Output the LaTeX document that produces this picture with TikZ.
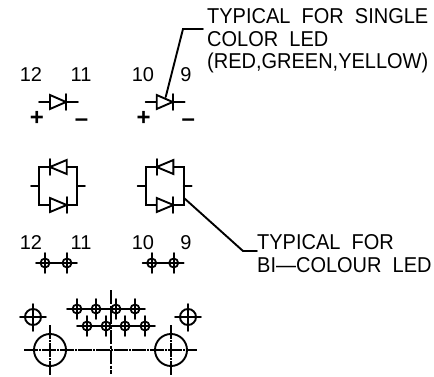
\documentclass[tikz,border=0pt]{standalone}
\usepackage{fontspec}
\setmainfont{Liberation Sans}
\usetikzlibrary{calc,positioning}
\tikzset{
    wire/.style={line width=1.9pt, line cap=round},
    padtick/.style={line width=1.8pt, line cap=round},
    pinnum/.style={font=\fontsize{20}{20}\selectfont, inner sep=0pt},
    polarity/.style={font=\bfseries\fontsize{24}{24}\selectfont, inner sep=0pt},
    notetext/.style={font=\fontsize{21.5}{22}\selectfont, inner sep=0pt, anchor=base west, xscale=0.93},
    centreline/.style={line width=2.4pt, dash pattern=on 14pt off 1.5pt on 3pt off 1.5pt},
    padline/.style={line width=1.8pt, dash pattern=on 14pt off 1pt on 2pt off 1pt}
}
\begin{document}
\begin{tikzpicture}[x=1pt,y=-1pt]
        \useasboundingbox (0,0) rectangle (434,377);
        % Single colour symbols
        \foreach \dx in {0,106.7} {
            \begin{scope}[xshift=\dx pt]
                \draw[wire] (39,102) -- (78,102);
                \filldraw[wire, fill=white] (50,95) -- (50,109) -- (66,102) -- cycle;
                \draw[wire] (66,94) -- (66,110);
                \node[polarity] at (37,118) {+};
                \node[polarity] at (81.5,123) {–};
                % Bi-colour symbols
                \draw[wire] (31,186) -- (39,186) (77,186) -- (85,186);
                \draw[wire] (39,167) rectangle (77,205);
                \filldraw[wire, fill=white] (66.7,160) -- (66.7,174) -- (50,167) -- cycle;
                \draw[wire] (50,159) -- (50,175);
                \filldraw[wire, fill=white] (50,198) -- (50,212) -- (66.7,205) -- cycle;
                \draw[wire] (66.7,197) -- (66.7,213);
                % Footprint pads
                \draw[wire] (36,263) -- (77,263);
                \foreach \px in {45,67} {
                    \draw[padtick] (\px,263) circle (4.5);
                    \draw[padtick] (\px,253) -- (\px,273);
                }
            \end{scope}
        }
        % Pin numbers
        \node[pinnum] (num12) at (31,75) {12};
        \node[pinnum] (num11) at (81,75) {11};
        \node[pinnum] (num10) at (143,75) {10};
        \node[pinnum] (num9) at (186,75) {9};
        \node[pinnum] (numb12) at (31,243) {12};
        \node[pinnum] (numb11) at (81,243) {11};
        \node[pinnum] (numb10) at (143,243) {10};
        \node[pinnum] (numb9) at (186,243) {9};
        % Notes
        \node[notetext] (single1) at (207,24) {TYPICAL\ \ FOR\ \ SINGLE};
        \node[notetext] (single2) at (207,47) {COLOR\ \ LED};
        \node[notetext] (single3) at (207,69) {(RED,GREEN,YELLOW)};
        \node[notetext] (bi1) at (257,249) {TYPICAL\ \ FOR};
        \node[notetext] (bi2) at (257,272) {BI---COLOUR\ \ LED};
        \coordinate (singletip) at (165.7,97);
        \coordinate (singlebend) at (183,29);
        \coordinate (singleend) at (203,29);
        \coordinate (bitip) at (184,198);
        \coordinate (bibend) at (243,251);
        \coordinate (biend) at (257,251);
        \draw[wire] (singletip) -- (singlebend) -- (singleend);
        \draw[wire] (bitip) -- (bibend) -- (biend);
        % Package outline
        \draw[centreline] (110.7,290) -- (110.7,374);
        \draw[padline] (24,350) -- (197,350);
        \foreach \px in {50,171} {
            \draw[wire] (\px,350) circle (16);
            \draw[padline] (\px,325) -- (\px,376);
        }
        \foreach \px in {33,188} {
            \draw[wire] (\px,317) circle (8);
            \draw[padtick] (\px-13,317) -- (\px+13,317);
            \draw[padtick] (\px,304) -- (\px,331);
        }
        \draw[wire] (67,309) -- (145,309);
        \draw[wire] (77,326) -- (155,326);
        \foreach \px in {77,96,116,135} {
            \draw[padtick] (\px,309) circle (4.5);
            \draw[padtick] (\px,299) -- (\px,319);
        }
        \foreach \px in {87,106,125,145} {
            \draw[padtick] (\px,326) circle (4.5);
            \draw[padtick] (\px,316) -- (\px,336);
        }
    \end{tikzpicture}
\end{document}
